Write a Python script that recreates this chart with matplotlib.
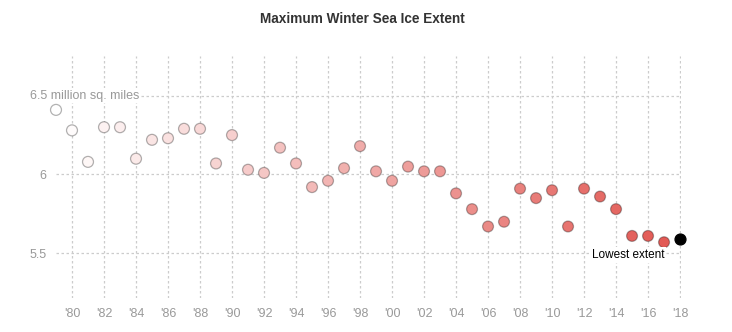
import matplotlib.pyplot as plt
import numpy as np
from matplotlib import font_manager
from matplotlib.colors import LinearSegmentedColormap

plt.rcParams['font.family'] = ['Liberation Sans', 'DejaVu Sans']

years = np.arange(1979, 2019)
extent = [6.41, 6.28, 6.08, 6.30, 6.30, 6.10, 6.22, 6.23, 6.29, 6.29,
          6.07, 6.25, 6.03, 6.01, 6.17, 6.07, 5.92, 5.96, 6.04, 6.18,
          6.02, 5.96, 6.05, 6.02, 6.02, 5.88, 5.78, 5.67, 5.70, 5.91,
          5.85, 5.90, 5.67, 5.91, 5.86, 5.78, 5.61, 5.61, 5.57, 5.59]
xticks = np.arange(1980, 2019, 2)
xtick_labels = ["'%02d" % (y % 100) for y in xticks]
yticks = [5.5, 6.0, 6.5]
ytick_labels = ['5.5', '6', '']

# narrow bold face for the heading if it is there
try:
    font_manager.findfont(font_manager.FontProperties(family='Liberation Sans Narrow'),
                          fallback_to_default=False)
    title_family, title_size = ['Liberation Sans Narrow', 'DejaVu Sans'], 11.5
except ValueError:
    title_family, title_size = ['Liberation Sans', 'DejaVu Sans'], 9.8

fig = plt.figure(figsize=(7.32, 3.32), dpi=100)
ax = fig.add_axes([56 / 732, 1 - 298 / 332, 625 / 732, 242 / 332])

# fill gets redder with each year; the latest year is black
cmap = LinearSegmentedColormap.from_list('ice', ['#ffffff', '#e25a55'])
t = (years - years[0]) / (years[-2] - years[0])
fills = [cmap(v) for v in t]
fills[-1] = '#000000'

ax.scatter(years[:-1], extent[:-1], s=62, c=fills[:-1], edgecolors=(0, 0, 0, 0.3),
           linewidths=0.9, zorder=3, clip_on=False)
ax.scatter(years[-1:], extent[-1:], s=62, c='black', edgecolors='black',
           linewidths=0.9, zorder=4, clip_on=False)

ax.set_xlim(1979, 2018.06)
ax.set_ylim(5.216, 6.752)
ax.set_xticks(xticks)
ax.set_xticklabels(xtick_labels)
ax.set_yticks(yticks)
ax.set_yticklabels(ytick_labels)
ax.tick_params(length=0, labelsize=9, labelcolor='#999999')
ax.tick_params(axis='x', pad=7)
ax.tick_params(axis='y', pad=7)
for s in ax.spines.values():
    s.set_visible(False)
ax.grid(True, color='#cccccc', linestyle=(0, (2, 2)), linewidth=0.9)
ax.set_axisbelow(True)

ax.annotate('6.5 million sq. miles', xy=(0, 6.5), xycoords=('axes fraction', 'data'),
            xytext=(-26 * 0.72, 0), textcoords='offset points',
            ha='left', va='center', fontsize=9, color='#999999', zorder=5,
            bbox=dict(boxstyle='square,pad=0.1', fc='white', ec='none'))

ax.text(2017.0, 5.489, 'Lowest extent', ha='right', va='center',
        fontsize=8.5, color='black', zorder=5,
        bbox=dict(boxstyle='square,pad=0.15', fc='white', ec='none'))

fig.text(362 / 732, 1 - 19 / 332, 'Maximum Winter Sea Ice Extent',
         ha='center', va='center', fontsize=title_size, fontweight='bold',
         color='#333333', family=title_family)

fig.savefig('out.png', dpi=100)
